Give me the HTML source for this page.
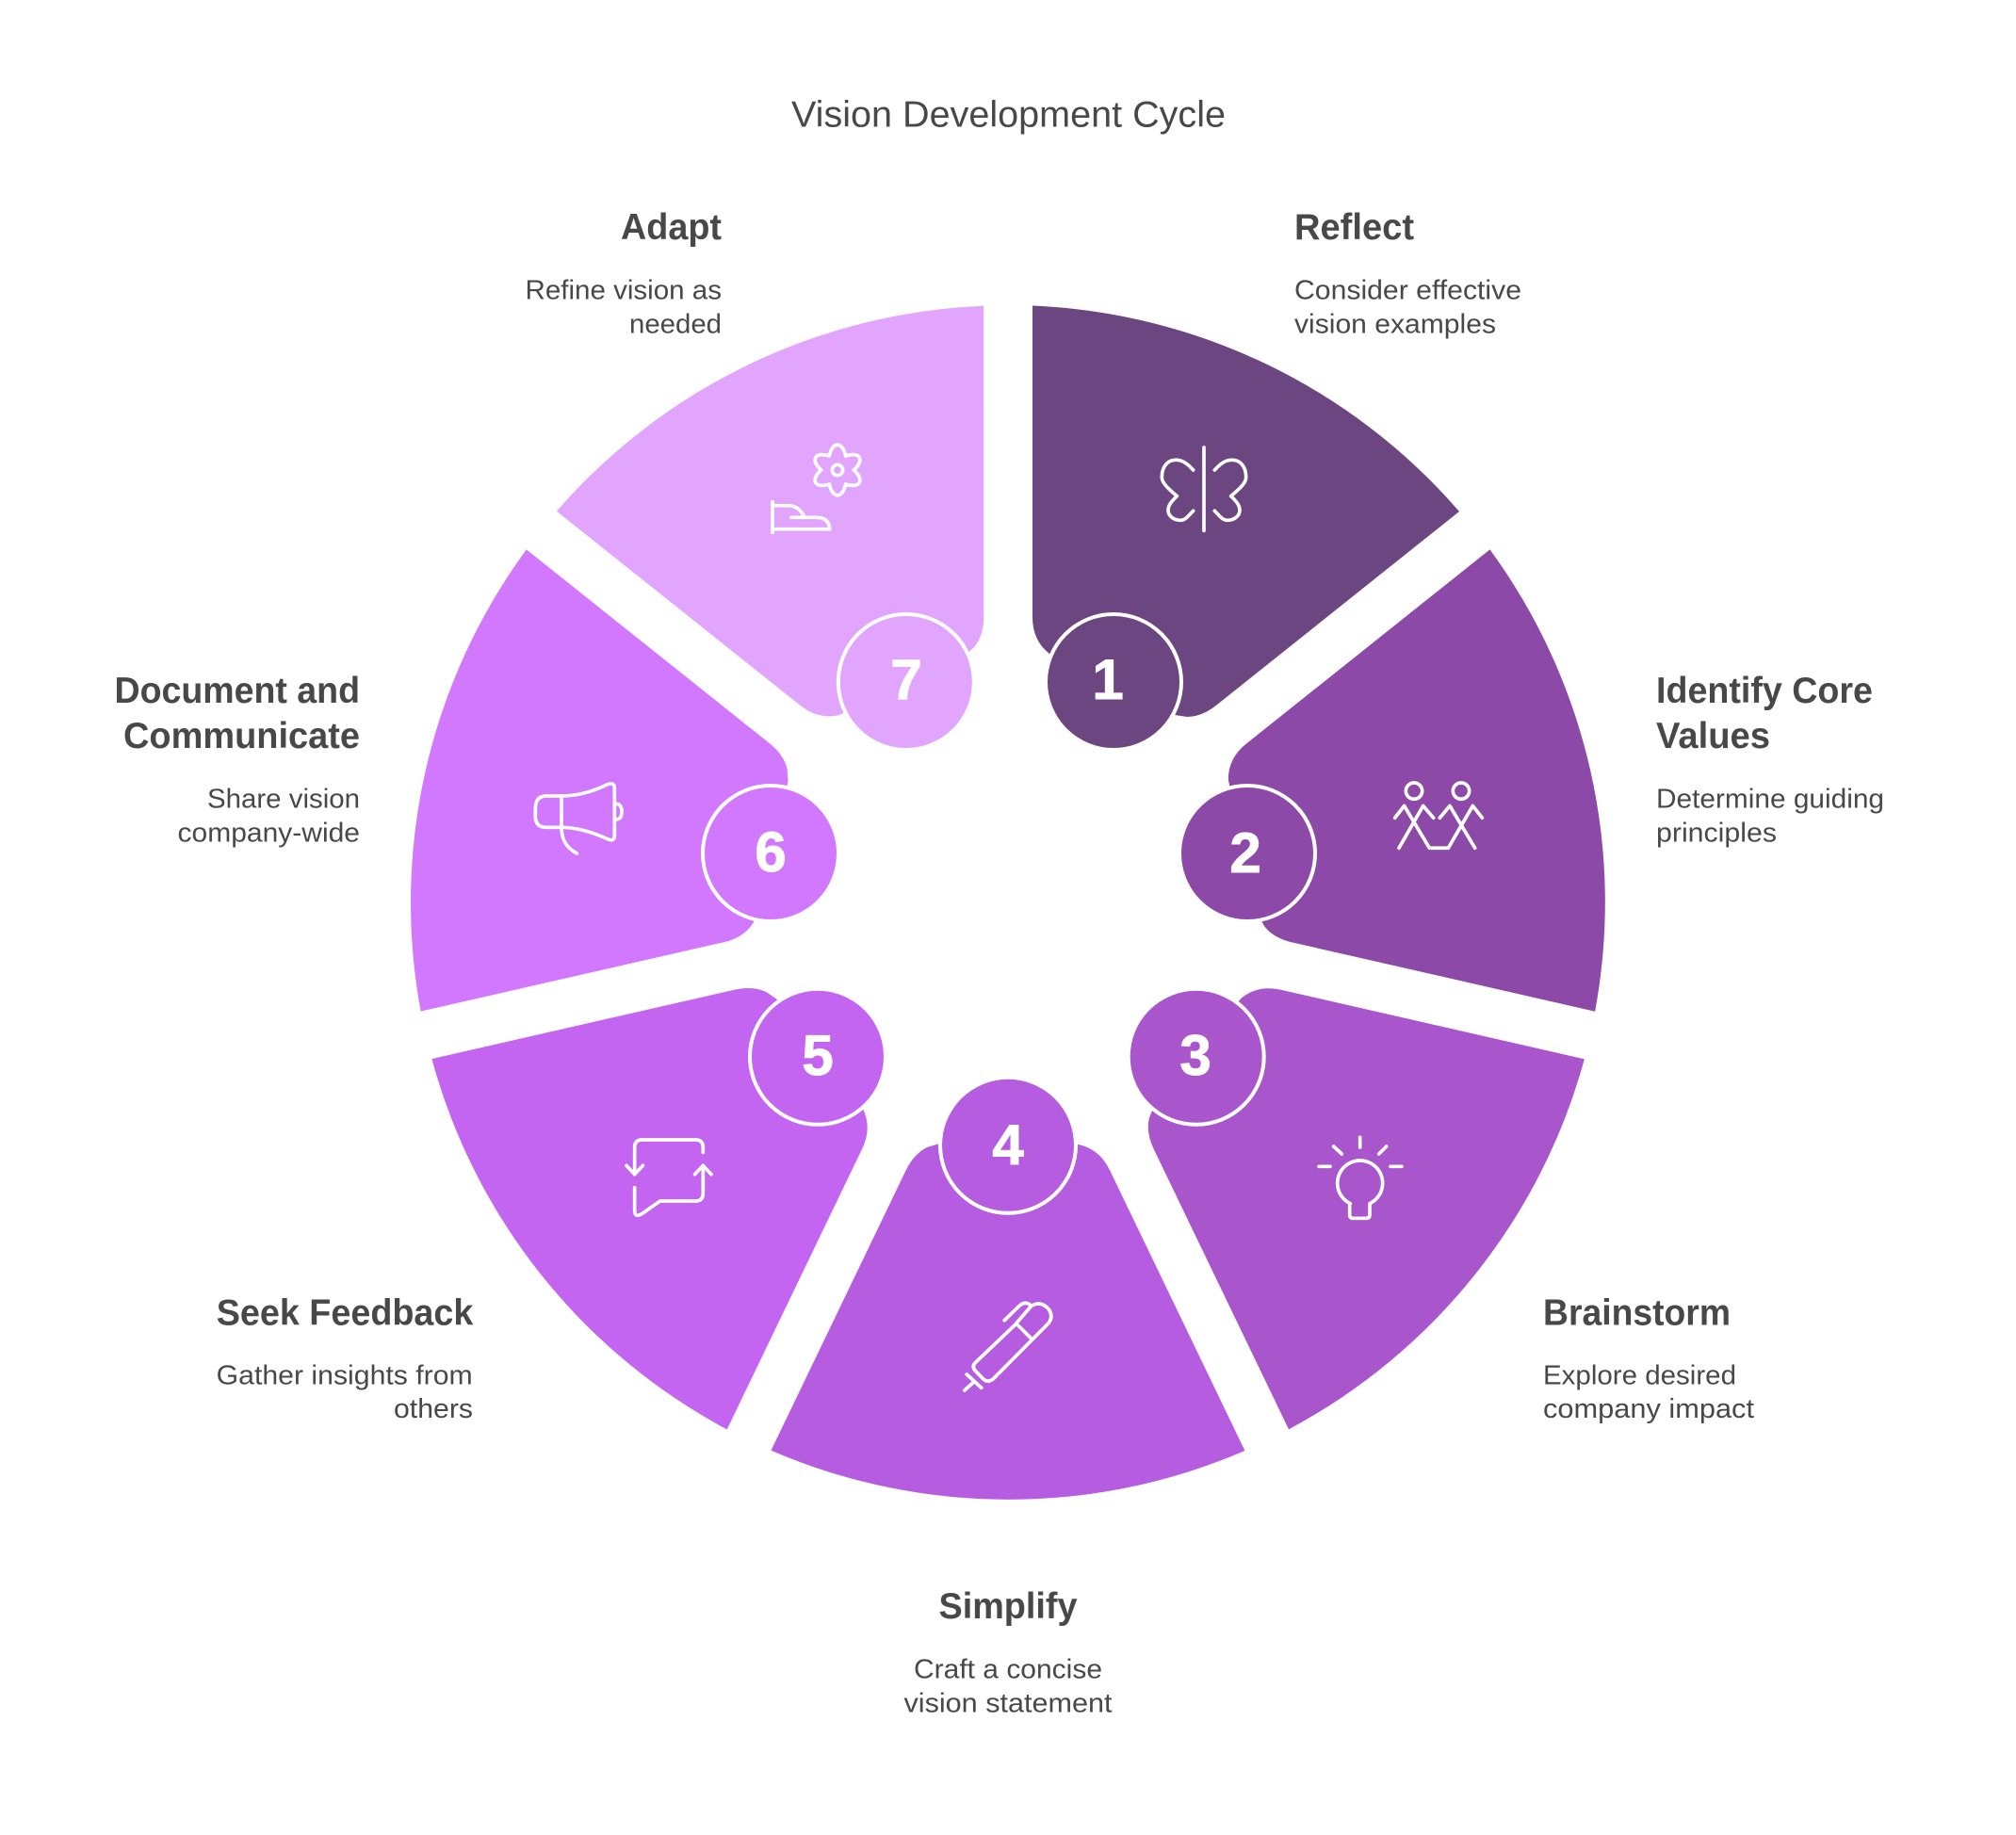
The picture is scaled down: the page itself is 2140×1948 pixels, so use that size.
<!DOCTYPE html>
<html lang="en">
<head>
<meta charset="utf-8">
<title>Vision Development Cycle</title>
<style>
html,body{margin:0;padding:0;background:#fff;width:2140px;height:1948px;overflow:hidden}
svg{display:block}
text{font-family:"Liberation Sans",sans-serif;fill:#484848}
.h{font-size:39px;font-weight:700}
.d{font-size:29px}
.n{font-size:60px;font-weight:700;fill:#fff;text-anchor:middle;stroke:#fff;stroke-width:1}
.i{fill:none;stroke:#fff;stroke-width:11;stroke-linecap:round;stroke-linejoin:round}
.r{stroke:#fff;stroke-width:4}
</style>
</head>
<body>
<svg xmlns="http://www.w3.org/2000/svg" width="2140" height="1948" viewBox="0 0 2140 1948">
<rect width="2140" height="1948" fill="#fff"/>

<text x="840" y="134.5" font-size="39" textLength="461" lengthAdjust="spacingAndGlyphs">Vision Development Cycle</text>

<g transform="translate(1070 958)">
<path fill="#6C4680" d="M26,-633.5 A634,634 0 0 1 479,-415 L222,-210 Q206,-197 190,-197 L177,-199 L44,-264 Q26,-278 26,-303 Z"/>
<path fill="#8C49A8" transform="rotate(51.4286)" d="M26,-633.5 A634,634 0 0 1 479,-415 L222,-210 Q206,-197 190,-197 L177,-199 L44,-264 Q26,-278 26,-303 Z"/>
<path fill="#A956CD" transform="rotate(102.8571)" d="M26,-633.5 A634,634 0 0 1 479,-415 L222,-210 Q206,-197 190,-197 L177,-199 L44,-264 Q26,-278 26,-303 Z"/>
<path fill="#B55CE0" transform="rotate(154.2857)" d="M26,-633.5 A634,634 0 0 1 479,-415 L222,-210 Q206,-197 190,-197 L177,-199 L44,-264 Q26,-278 26,-303 Z"/>
<path fill="#C365F1" transform="rotate(205.7143)" d="M26,-633.5 A634,634 0 0 1 479,-415 L222,-210 Q206,-197 190,-197 L177,-199 L44,-264 Q26,-278 26,-303 Z"/>
<path fill="#D178FE" transform="rotate(257.1429)" d="M26,-633.5 A634,634 0 0 1 479,-415 L222,-210 Q206,-197 190,-197 L177,-199 L44,-264 Q26,-278 26,-303 Z"/>
<path fill="#E1A5FE" transform="rotate(308.5714)" d="M26,-633.5 A634,634 0 0 1 479,-415 L222,-210 Q206,-197 190,-197 L177,-199 L44,-264 Q26,-278 26,-303 Z"/>
</g>

<circle class="r" cx="1182" cy="724" r="72" fill="#6C4680"/>
<circle class="r" cx="1324" cy="906" r="72" fill="#8C49A8"/>
<circle class="r" cx="1269.7" cy="1121.8" r="72" fill="#A956CD"/>
<circle class="r" cx="1070" cy="1215.8" r="72" fill="#B55CE0"/>
<circle class="r" cx="868" cy="1121.8" r="72" fill="#C365F1"/>
<circle class="r" cx="818" cy="906" r="72" fill="#D178FE"/>
<circle class="r" cx="961.8" cy="724" r="72" fill="#E1A5FE"/>

<text class="n" x="1176" y="742">1</text>
<text class="n" x="1322" y="926">2</text>
<text class="n" x="1269" y="1141">3</text>
<text class="n" x="1070" y="1236">4</text>
<text class="n" x="868" y="1141">5</text>
<text class="n" x="818" y="925">6</text>
<text class="n" x="962" y="742">7</text>

<!-- butterfly -->
<g class="i" transform="translate(1070 300) scale(.33333)">
<path d="M624 525V790"/>
<path d="M590 597C570 575 555 565 535 565C505 565 490 590 490 620C490 640 515 660 538 680C520 697 510 710 510 725C510 745 530 757 550 757C565 757 575 742 590 727"/>
<path d="M658 597C678 575 693 565 713 565C743 565 758 590 758 620C758 640 733 660 710 680C728 697 738 710 738 725C738 745 718 757 698 757C683 757 673 742 658 727"/>
</g>

<!-- people -->
<g class="i" transform="translate(1240 560) scale(.33333 .3444)">
<ellipse cx="783" cy="812" rx="26" ry="25"/>
<ellipse cx="933" cy="812" rx="26" ry="25"/>
<path d="M722 895L752 858L832 988H892L970 858L1000 895"/>
<path d="M845 895L812 858L735 988"/>
<path d="M865 895L897 858L977 988"/>
</g>

<!-- bulb -->
<g class="i" transform="translate(1180 1030) scale(.33333)">
<path d="M791 532V564M707 561L733 585M875 561L851 585M660 625H696M888 625H924"/>
<path d="M760 743A72 72 0 1 1 822 743V778Q822 790 810 790H770Q758 790 758 778V743Z"/>
</g>

<!-- pen -->
<g class="i" transform="translate(800 1130) scale(.34435 .33333)">
<path d="M805 830L683 950Q672 962 683 975L708 1002Q722 1015 738 1002L908 825Q925 805 910 780Q885 750 855 770Z"/>
<path d="M812 828L855 872"/>
<path d="M773 815L820 768Q838 752 855 768"/>
<path d="M657 987L702 1030M650 1038L680 1010"/>
</g>

<!-- chat -->
<g class="i" transform="translate(450 1030) scale(.33333)">
<path d="M889 580V565Q889 540 865 540H695Q671 540 671 565V650"/>
<path d="M645 622L671 650L697 622"/>
<path d="M671 692V765Q671 790 695 775L752 735H865Q889 735 889 710V622"/>
<path d="M863 650L889 622L915 650"/>
</g>

<!-- megaphone -->
<g class="i" transform="translate(420 570) scale(.33333)">
<path d="M528 825C580 825 630 810 675 788Q697 780 697 800V950Q697 972 675 962C630 942 580 925 528 925H480Q445 925 445 890V865Q445 825 480 825Z"/>
<path d="M528 825V925C528 965 545 990 577 1008"/>
<path d="M700 850Q720 850 720 875Q720 900 700 900"/>
</g>

<!-- adapt -->
<g class="i" transform="translate(580 310) scale(.33333)">
<circle cx="927" cy="567" r="17"/>
<g transform="translate(927 567)">
<path d="M-26,-45C-16,-92 16,-92 26,-45"/>
<path transform="rotate(60)" d="M-26,-45C-16,-92 16,-92 26,-45"/>
<path transform="rotate(120)" d="M-26,-45C-16,-92 16,-92 26,-45"/>
<path transform="rotate(180)" d="M-26,-45C-16,-92 16,-92 26,-45"/>
<path transform="rotate(240)" d="M-26,-45C-16,-92 16,-92 26,-45"/>
<path transform="rotate(300)" d="M-26,-45C-16,-92 16,-92 26,-45"/>
</g>
<path d="M720 668V766"/>
<path d="M720 680H770Q805 680 822 718"/>
<path d="M780 718H860Q900 718 902 755H720"/>
</g>

<!-- labels -->
<text class="h" x="1374" y="254" textLength="127" lengthAdjust="spacingAndGlyphs">Reflect</text>
<text class="d" x="1374" y="317.5" textLength="241" lengthAdjust="spacingAndGlyphs">Consider effective</text>
<text class="d" x="1374" y="353.5" textLength="214" lengthAdjust="spacingAndGlyphs">vision examples</text>

<text class="h" x="1758" y="746" textLength="230" lengthAdjust="spacingAndGlyphs">Identify Core</text>
<text class="h" x="1758" y="794" textLength="121" lengthAdjust="spacingAndGlyphs">Values</text>
<text class="d" x="1758" y="857.3" textLength="242" lengthAdjust="spacingAndGlyphs">Determine guiding</text>
<text class="d" x="1758" y="893.3" textLength="128" lengthAdjust="spacingAndGlyphs">principles</text>

<text class="h" x="1638" y="1406.7" textLength="199" lengthAdjust="spacingAndGlyphs">Brainstorm</text>
<text class="d" x="1638" y="1469.3" textLength="205" lengthAdjust="spacingAndGlyphs">Explore desired</text>
<text class="d" x="1638" y="1505" textLength="224" lengthAdjust="spacingAndGlyphs">company impact</text>

<text class="h" x="996.5" y="1718" textLength="147" lengthAdjust="spacingAndGlyphs">Simplify</text>
<text class="d" x="970" y="1781.5" textLength="200" lengthAdjust="spacingAndGlyphs">Craft a concise</text>
<text class="d" x="959.5" y="1817.5" textLength="221" lengthAdjust="spacingAndGlyphs">vision statement</text>

<text class="h" x="229.7" y="1406.7" textLength="272.7" lengthAdjust="spacingAndGlyphs">Seek Feedback</text>
<text class="d" x="229.7" y="1469.3" textLength="272" lengthAdjust="spacingAndGlyphs">Gather insights from</text>
<text class="d" x="418" y="1505" textLength="84" lengthAdjust="spacingAndGlyphs">others</text>

<text class="h" x="121.5" y="746" textLength="260.5" lengthAdjust="spacingAndGlyphs">Document and</text>
<text class="h" x="131" y="794" textLength="251" lengthAdjust="spacingAndGlyphs">Communicate</text>
<text class="d" x="220" y="857.3" textLength="162" lengthAdjust="spacingAndGlyphs">Share vision</text>
<text class="d" x="188.5" y="893.3" textLength="193.5" lengthAdjust="spacingAndGlyphs">company-wide</text>

<text class="h" x="659" y="254" textLength="107" lengthAdjust="spacingAndGlyphs">Adapt</text>
<text class="d" x="557.5" y="317.5" textLength="208.5" lengthAdjust="spacingAndGlyphs">Refine vision as</text>
<text class="d" x="668" y="353.5" textLength="98" lengthAdjust="spacingAndGlyphs">needed</text>
</svg>
</body>
</html>
